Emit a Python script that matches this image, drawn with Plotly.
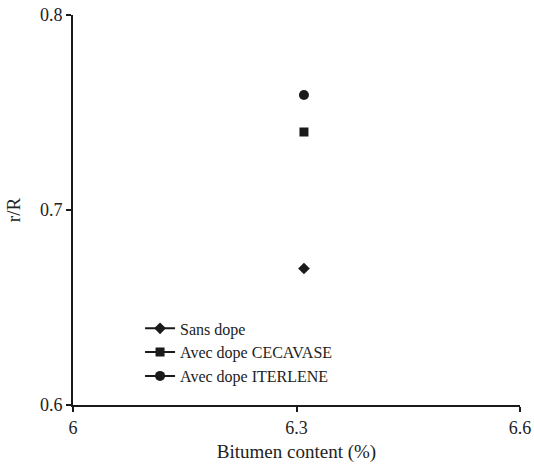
import plotly.graph_objects as go

# Bitumen content (%) for each mix
bitumen = [6.31]
# Retained strength ratio r/R
sans_dope = [0.67]
cecavase = [0.74]
iterlene = [0.759]

series = [
    ("Sans dope", sans_dope, "diamond", 9),
    ("Avec dope CECAVASE", cecavase, "square", 9),
    ("Avec dope ITERLENE", iterlene, "circle", 10),
]

x_ticks = [6, 6.3, 6.6]
y_ticks = [0.6, 0.7, 0.8]

fig = go.Figure()
for name, vals, sym, size in series:
    fig.add_trace(go.Scatter(
        x=bitumen, y=vals, name=name, mode="lines+markers",
        marker=dict(symbol=sym, size=size, color="#1a1a1a"),
        line=dict(color="#1a1a1a", width=2),
    ))

serif = "Liberation Serif, Times New Roman, serif"
fig.update_layout(
    width=534, height=466,
    margin=dict(l=73, r=14, t=15, b=61),
    plot_bgcolor="white", paper_bgcolor="white",
    font=dict(family=serif, size=18, color="#222"),
    showlegend=True,
    legend=dict(x=0.15, y=0.24, xanchor="left", yanchor="top",
                bgcolor="rgba(0,0,0,0)", font=dict(family=serif, size=16, color="#222"),
                tracegroupgap=0),
)
fig.update_xaxes(
    range=[6, 6.6], tickvals=x_ticks, ticktext=[str(v) for v in x_ticks],
    tickfont=dict(family=serif, size=18, color="#222"),
    showline=True, linecolor="#1a1a1a", linewidth=2, ticks="outside",
    ticklen=5, tickwidth=2, tickcolor="#1a1a1a", showgrid=False, zeroline=False,
    automargin=False,
    title=dict(text="Bitumen content (%)", standoff=8,
               font=dict(family=serif, size=19, color="#222")),
)
fig.update_yaxes(
    range=[0.6, 0.8], tickvals=y_ticks, ticktext=[str(v) for v in y_ticks],
    tickfont=dict(family=serif, size=18, color="#222"),
    showline=True, linecolor="#1a1a1a", linewidth=2, ticks="outside",
    ticklen=5, tickwidth=2, tickcolor="#1a1a1a", showgrid=False, zeroline=False,
    automargin=False,
    title=dict(text="r/R", standoff=14,
               font=dict(family=serif, size=19, color="#222")),
)
fig.write_html("out.html")
